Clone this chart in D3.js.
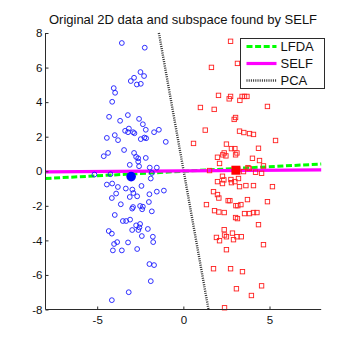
<!DOCTYPE html>
<html>
<head>
<meta charset="utf-8">
<script src="https://cdn.jsdelivr.net/npm/d3@7"></script>
<style>
  html, body { margin: 0; padding: 0; background: #fff; }
  svg { display: block; font-family: "Liberation Sans", Arial, sans-serif; }
</style>
</head>
<body>
<svg id="chart" width="355" height="355"></svg>
<script>
// ---- data ----
const blueX = [-3.57,-2.24,-2.49,-2.28,-2.86,-3.05,-2.70,-2.47,-4.04,-3.96,-4.13,-4.31,-3.22,-3.67,-2.57,-2.35,-2.18,-3.16,-3.38,-2.92,-2.84,-3.21,-1.42,-1.70,-4.44,-3.98,-3.79,-2.47,-2.26,-2.16,-1.02,-3.44,-4.37,-4.62,-2.86,-2.74,-2.62,-2.18,-2.62,-3.11,-2.57,-1.95,-1.54,
  -5.16,-4.23,-1.89,-1.83,-4.44,-4.13,-3.80,-3.34,-2.96,-2.43,-4.15,-3.90,-3.11,-2.90,-2.68,-1.97,-1.54,-1.13,-3.63,-2.97,-2.92,-2.51,-2.35,-2.39,-2.00,-1.83,-3.98,-3.51,-3.32,-3.09,-2.74,-2.51,-2.55,-2.97,-2.61,-2.06,-4.33,-4.15,-2.41,-1.77,-1.75,-3.84,-4.02,-3.21,-4.09,-3.57,-2.68,-1.97,-1.70,-1.89,-3.17,-4.15];
const blueY = [7.42,7.15,5.74,5.51,5.41,5.22,5.02,5.06,4.81,4.54,4.02,3.15,3.25,2.92,3.03,2.72,2.40,2.47,2.34,2.26,2.20,2.26,2.40,2.26,1.93,2.09,1.80,1.86,1.95,1.91,1.70,1.23,1.06,0.87,1.06,0.83,0.75,0.77,0.56,0.37,0.29,0.21,0.21,
  -0.19,-0.17,-0.42,-0.10,-0.77,-0.71,-0.91,-1.00,-1.06,-0.85,-1.55,-1.29,-1.49,-1.26,-1.45,-1.33,-1.18,-1.12,-1.91,-2.16,-2.07,-2.01,-2.05,-2.20,-1.78,-2.32,-2.53,-2.88,-2.88,-2.80,-3.13,-3.05,-3.25,-3.40,-3.40,-3.34,-3.46,-3.61,-3.75,-3.79,-4.10,-4.10,-4.21,-4.12,-4.58,-4.58,-4.50,-5.37,-5.43,-6.36,-7.00,-7.46];
const redX = [2.74,3.14,1.63,2.04,2.74,2.66,3.41,3.55,3.69,3.28,0.99,1.79,4.88,3.03,2.95,1.27,3.26,3.51,3.84,4.07,5.35,0.59,2.50,2.79,2.99,4.36,2.37,3.11,2.29,2.47,1.98,3.03,4.01,4.42,2.10,4.65,3.75,
  1.52,3.49,3.82,4.19,4.54,2.27,2.35,1.98,2.27,2.76,2.99,3.20,2.79,3.26,3.63,4.07,5.17,1.75,1.98,2.06,2.60,2.70,3.72,4.88,1.34,3.05,3.16,3.34,1.81,2.06,2.37,3.55,3.84,4.07,4.27,3.03,3.14,4.36,2.37,2.85,2.39,2.50,3.11,3.36,1.92,2.10,2.91,4.65,2.50,1.75,2.74,3.43,4.54,3.08,3.95,2.39];
const redY = [7.52,6.24,6.01,4.39,4.33,4.19,4.33,4.33,4.33,4.10,3.69,3.58,3.75,3.11,3.00,2.38,2.32,2.24,2.18,2.13,1.78,1.61,1.57,1.31,1.31,1.33,1.06,1.06,0.95,0.89,0.81,0.95,0.75,0.62,0.45,0.31,0.21,
  0.04,-0.02,0.16,-0.06,-0.12,-0.29,-0.50,-0.60,-0.71,-0.48,-0.60,-0.42,-0.66,-0.89,-0.83,-0.83,-0.89,-1.18,-1.35,-1.55,-1.70,-1.70,-1.64,-1.76,-1.93,-1.99,-1.99,-1.93,-2.28,-2.36,-2.39,-2.45,-2.45,-2.39,-2.39,-2.68,-2.74,-3.09,-3.38,-3.58,-3.69,-3.79,-3.79,-3.79,-3.83,-4.02,-3.96,-4.25,-4.54,-5.64,-5.64,-5.81,-6.63,-6.80,-7.19,-7.90];
const blueMean = [-3.03, -0.31];
const redMean = [3.05, 0.06];
// subspace lines, endpoints in data units
const lfdaLine = [[-8, -0.42], [8, 0.42]];
const selfLine = [[-8, -0.04], [8, 0.075]];
const pcaLine = [[-1.42, 8], [1.46, -8]];
const xTicks = [-5, 0, 5];
const yTicks = [-8, -6, -4, -2, 0, 2, 4, 6, 8];
const legendNames = ["LFDA", "SELF", "PCA"];
const titleText = "Original 2D data and subspace found by SELF";

// ---- drawing ----
const svg = d3.select("#chart");
const x = d3.scaleLinear().domain([-8, 8]).range([45.5, 321.2]);
const y = d3.scaleLinear().domain([-8, 8]).range([309.5, 33]);
const axisColor = "#2b2b2b";

const styles = {
  LFDA: { color: "#00ff00", width: 3, dash: "6,2.6" },
  SELF: { color: "#ff00ff", width: 3.2, dash: null },
  PCA:  { color: "#333333", width: 2.4, dash: "1,1.2" }
};

const line = d3.line().x(d => x(d[0])).y(d => y(d[1]));
const lines = { LFDA: lfdaLine, SELF: selfLine, PCA: pcaLine };

const plot = svg.append("g");
["PCA", "LFDA", "SELF"].forEach(k => {
  plot.append("path").attr("d", line(lines[k]))
    .attr("fill", "none").attr("stroke", styles[k].color)
    .attr("stroke-width", styles[k].width)
    .attr("stroke-dasharray", styles[k].dash);
});

// blue circles
plot.selectAll("circle.b").data(blueX.map((v, i) => [v, blueY[i]])).join("circle")
  .attr("class", "b")
  .attr("cx", d => x(d[0])).attr("cy", d => y(d[1])).attr("r", 2.4)
  .attr("fill", "none").attr("stroke", "#1a1aff").attr("stroke-width", 0.9);

// red squares
const s = 4.4;
plot.selectAll("rect.r").data(redX.map((v, i) => [v, redY[i]])).join("rect")
  .attr("class", "r")
  .attr("x", d => x(d[0]) - s / 2).attr("y", d => y(d[1]) - s / 2)
  .attr("width", s).attr("height", s)
  .attr("fill", "none").attr("stroke", "#ff2020").attr("stroke-width", 0.9);

// means
plot.append("circle").attr("cx", x(blueMean[0])).attr("cy", y(blueMean[1])).attr("r", 4.8).attr("fill", "#0000ff");
plot.append("rect").attr("x", x(redMean[0]) - 4.5).attr("y", y(redMean[1]) - 4.5)
  .attr("width", 9).attr("height", 9).attr("fill", "#ff0000");

// axes
const xAxis = d3.axisBottom(x).tickValues(xTicks).tickSize(-3).tickPadding(6).tickFormat(d3.format("d"));
const yAxis = d3.axisLeft(y).tickValues(yTicks).tickSize(-3).tickPadding(3).tickFormat(d3.format("d"));

const gx = svg.append("g").attr("transform", `translate(0,${y(-8)})`).call(xAxis);
const gy = svg.append("g").attr("transform", `translate(${x(-8)},0)`).call(yAxis);
[gx, gy].forEach(g => {
  g.select(".domain").attr("stroke", axisColor).attr("d", null);
  g.selectAll(".tick line").attr("stroke", axisColor);
  g.selectAll(".tick text").attr("fill", "#111").attr("font-size", 11.5)
    .attr("font-family", "Liberation Sans, Arial, sans-serif")
    .text(d => String(d).replace("\u2212", "-"));
});
// axis lines (left and bottom only)
svg.append("line").attr("x1", x(-8)).attr("x2", x(8)).attr("y1", y(-8)).attr("y2", y(-8)).attr("stroke", axisColor);
svg.append("line").attr("x1", x(-8)).attr("x2", x(-8)).attr("y1", y(-8)).attr("y2", y(8)).attr("stroke", axisColor);
gx.select(".domain").remove();
gy.select(".domain").remove();

// title
svg.append("text").attr("x", 183).attr("y", 24).attr("text-anchor", "middle")
  .attr("font-size", 13).attr("fill", "#111").text(titleText);

// legend
const lg = svg.append("g").attr("transform", "translate(240.5,38.5)");
lg.append("rect").attr("width", 84).attr("height", 50).attr("fill", "#fff").attr("stroke", axisColor).attr("stroke-width", 1);
legendNames.forEach((k, i) => {
  const yy = 8 + i * 17;
  lg.append("line").attr("x1", 6).attr("x2", 36).attr("y1", yy).attr("y2", yy)
    .attr("stroke", styles[k].color).attr("stroke-width", styles[k].width)
    .attr("stroke-dasharray", styles[k].dash);
  lg.append("text").attr("x", 40).attr("y", yy + 4.5).attr("font-size", 13).attr("fill", "#111").text(k);
});
</script>
</body>
</html>
